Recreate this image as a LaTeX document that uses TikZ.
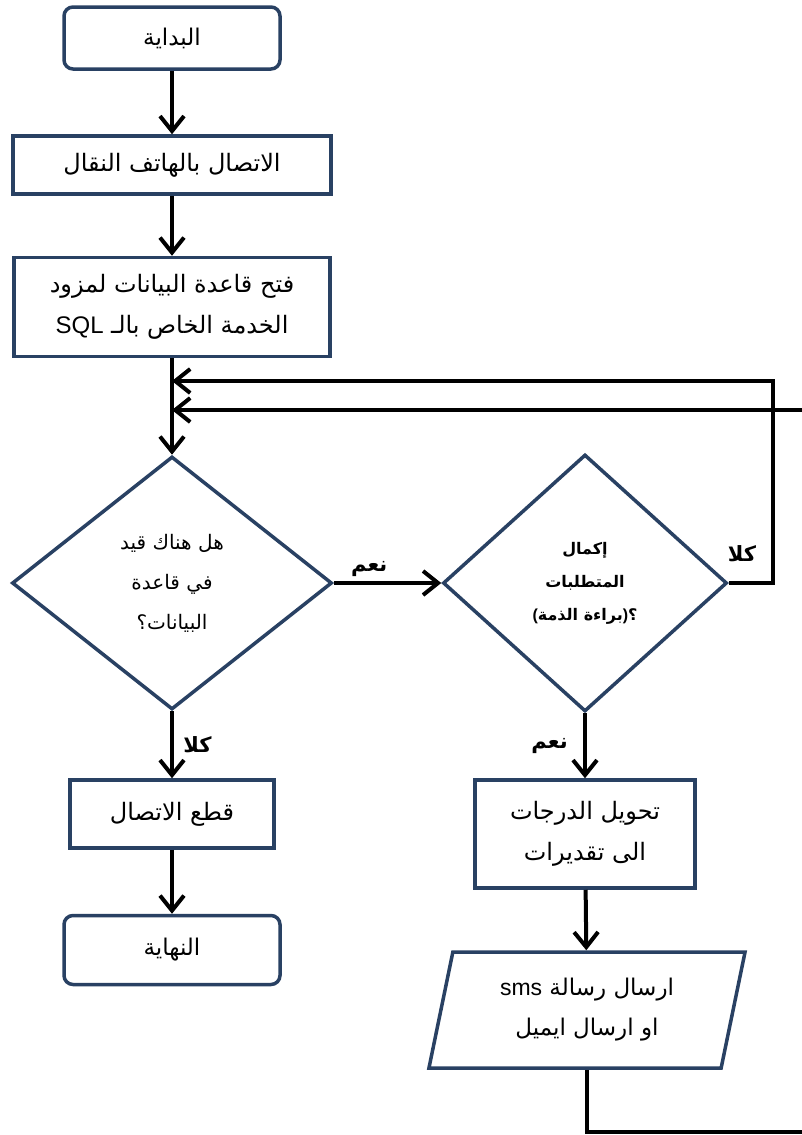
\documentclass[tikz,border=0pt]{standalone}
\usepackage{fontspec}
\setmainfont{Liberation Sans}
\newfontfamily\arabicfont[Script=Arabic]{DejaVu Sans}
\TeXXeTstate=1
\usepackage{xcolor}
\usetikzlibrary{positioning,shapes.geometric}
\usetikzlibrary{arrows.meta}
\definecolor{boxblue}{RGB}{41,65,99}
\newcommand{\artxt}[1]{{\arabicfont\beginR #1\endR}}

\begin{document}
\begin{tikzpicture}[
	  x=1pt, y=-1pt,
	  %style for arrows
	  arrw/.style={line width=4pt, ->, >={Straight Barb[length=15pt, width=24pt]}},
	  % style for start and end boxes
	  term/.style={rectangle, rounded corners=9pt, fill=white, draw=boxblue, line width=3.5pt,
	    minimum width=216pt, minimum height=62pt, font=\fontsize{23}{28}\selectfont},
	  % style for process boxes
	  proc/.style={rectangle, fill=white, draw=boxblue, line width=3.5pt, align=center,
	    font=\fontsize{24}{41}\selectfont},
	  % style for decisions
	  dec/.style={diamond, fill=white, draw=boxblue, line width=3.5pt, inner sep=0pt, align=center},
	  % style for in/out box
	  io/.style={trapezium, trapezium left angle=77, trapezium right angle=103, trapezium stretches=true,
	    fill=white, draw=boxblue, line width=3.5pt, align=center, font=\fontsize{23}{40}\selectfont},
	  % style for yes/no labels
	  lbl/.style={font=\fontsize{21}{24}\selectfont\bfseries}]

      \useasboundingbox (0,0) rectangle (802,1135);

      % left column
      \node[term](start) at (172,38){\artxt{البداية}};
      \node[proc, minimum width=318pt, minimum height=58pt](call) at (172,165){\artxt{الاتصال بالهاتف النقال}};
      \node[proc, minimum width=316pt, minimum height=99pt](opendb) at (172,307)
        {\artxt{فتح قاعدة البيانات لمزود}\\\artxt{الخدمة الخاص بالـ \beginL{\normalfont SQL}\endL}};
      \node[dec, minimum width=320pt, minimum height=253pt, font=\fontsize{20}{40}\selectfont](indb) at (172,583)
        {\artxt{هل هناك قيد}\\\artxt{في قاعدة}\\\artxt{البيانات؟}};
      \node[proc, minimum width=204pt, minimum height=68pt](cut) at (172,814){\artxt{قطع الاتصال}};
      \node[term, minimum height=69pt](finish) at (172,950){\artxt{النهاية}};

      % right column
      \node[dec, minimum width=284pt, minimum height=257pt, font=\fontsize{16}{33}\selectfont\bfseries](req) at (585,583)
        {\artxt{إكمال}\\\artxt{المتطلبات}\\\mbox{(}\mbox{\artxt{براءة الذمة}}\mbox{)}\mbox{\arabicfont ؟}};
      \node[proc, minimum width=220pt, minimum height=108pt](conv) at (585,834)
        {\artxt{تحويل الدرجات}\\\artxt{الى تقديرات}};
      \node[io, minimum width=317pt, minimum height=116pt](send) at (587,1010)
        {\artxt{ارسال رسالة \beginL{\normalfont sms}\endL}\\\artxt{او ارسال ايميل}};

      % joins of the two loops
      \coordinate (j1) at (172,381);
      \coordinate (j2) at (172,410);
      \coordinate (rt2) at (812,410);

      \draw[arrw] (start) -- (call);
      \draw[arrw] (call) -- (opendb);
      \draw[arrw] (opendb) -- (indb);
      \draw[arrw] (indb) -- node[lbl, right=6pt]{\artxt{كلا}} (cut);
      \draw[arrw] (cut) -- (finish);
      \draw[arrw] (indb.east) -- node[lbl, above=1pt, pos=0.33]{\artxt{نعم}} (req.west);
      \draw[arrw] (req) -- node[lbl, left=12pt]{\artxt{نعم}} (conv);
      \draw[arrw] (conv) -- (send);
      \draw[arrw] (req.east) -- node[lbl, above=16pt, pos=0.3]{\artxt{كلا}} ++(44,0) |- (j1);
      \draw[arrw] (send.south) -- ++(0,62) -| (rt2) -- (j2);

\end{tikzpicture}
\end{document}
